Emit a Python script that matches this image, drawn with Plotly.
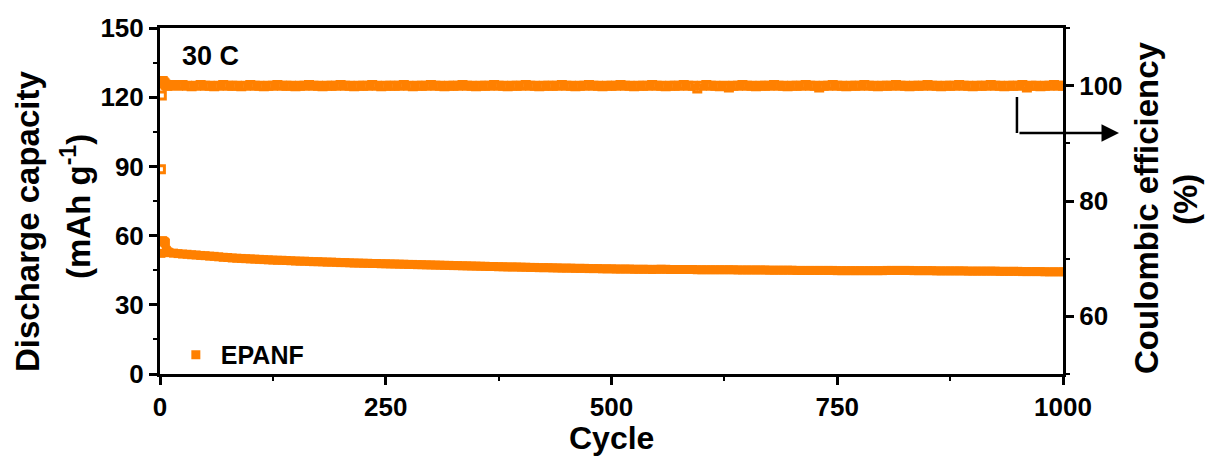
import plotly.graph_objects as go

# Cycle numbers: every cycle for the first ten, then every fifth cycle
CYCLES = list(range(1, 11)) + list(range(15, 1001, 5))

# Discharge capacity (mAh g-1) at 30 C
CAPACITY = [
    52.3, 57.6, 57.8, 57.4, 57.2, 56.8, 53.6, 53.0, 52.8, 52.6,
    # 15 - 100
    52.4, 52.2, 52.0, 51.9, 51.7, 51.6, 51.4, 51.3, 51.1, 51.0, 50.8, 50.6, 50.5, 50.3, 50.2, 50.1, 50.0, 49.9,
    # 105 - 150
    49.8, 49.7, 49.6, 49.5, 49.4, 49.3, 49.3, 49.2, 49.1, 49.0,
    # 155 - 210
    48.9, 48.9, 48.8, 48.7, 48.7, 48.6, 48.5, 48.5, 48.4, 48.3, 48.3, 48.2,
    # 215 - 300
    48.1, 48.1, 48.0, 48.0, 47.9, 47.9, 47.8, 47.8, 47.7, 47.7, 47.6, 47.6, 47.5, 47.5, 47.4, 47.4, 47.3, 47.3,
    # 305 - 380
    47.2, 47.2, 47.1, 47.1, 47.0, 47.0, 46.9, 46.9, 46.8, 46.8, 46.7, 46.7, 46.6, 46.6, 46.5, 46.5,
    # 385 - 450
    46.4, 46.4, 46.4, 46.3, 46.3, 46.2, 46.2, 46.1, 46.1, 46.1, 46.0, 46.0, 45.9, 45.9,
    # 455 - 545
    45.9, 45.8, 45.8, 45.8, 45.7, 45.7, 45.7, 45.6, 45.6, 45.6, 45.5, 45.5, 45.5, 45.5, 45.4, 45.4, 45.4, 45.4, 45.3,
    # 550 - 650
    45.4, 45.4, 45.4, 45.3, 45.3, 45.3, 45.3, 45.3, 45.3, 45.2, 45.2, 45.2, 45.2, 45.2, 45.2, 45.2, 45.2, 45.2, 45.1, 45.1, 45.1,
    # 655 - 760
    45.1, 45.1, 45.1, 45.1, 45.0, 45.0, 45.0, 45.0, 45.0, 45.0, 44.9, 44.9, 44.9, 44.9, 44.9, 44.9, 44.9, 44.9, 44.9, 44.8, 44.8, 44.8,
    # 765 - 830
    44.8, 44.8, 44.8, 44.8, 44.8, 44.8, 44.8, 44.8, 44.9, 44.9, 44.9, 44.9, 44.9, 44.9,
    # 835 - 940
    44.8, 44.8, 44.8, 44.8, 44.8, 44.7, 44.7, 44.7, 44.7, 44.7, 44.7, 44.7, 44.6, 44.6, 44.6, 44.6, 44.6, 44.6, 44.6, 44.5, 44.5, 44.5,
    # 945 - 1000
    44.5, 44.5, 44.4, 44.4, 44.4, 44.4, 44.4, 44.3, 44.3, 44.3, 44.3, 44.3,
]

# Coulombic efficiency (%)
EFFICIENCY = [
    85.5, 98.3, 100.8, 100.6, 100.4, 100.2, 100.1, 100.0, 100.0, 100.1,
    # 15 - 100
    100.1, 100.0, 100.1, 100.0, 99.9, 100.0, 100.1, 100.0, 100.0, 99.9, 100.0, 100.1, 100.0, 100.0, 100.0, 99.9, 100.0, 100.1,
    # 105 - 190
    100.0, 100.0, 99.9, 100.0, 100.0, 100.1, 100.0, 100.0, 100.0, 99.9, 100.0, 100.0, 100.1, 100.0, 100.0, 99.9, 100.0, 100.0,
    # 195 - 280
    100.0, 100.1, 100.0, 100.0, 99.9, 100.0, 100.0, 100.0, 100.1, 100.0, 99.9, 100.0, 100.0, 100.0, 100.0, 100.1, 100.0, 99.9,
    # 285 - 370
    100.0, 100.0, 100.0, 100.1, 100.0, 100.0, 99.9, 100.0, 100.0, 100.0, 100.1, 100.0, 100.0, 99.9, 100.0, 100.0, 100.0, 100.1,
    # 375 - 460
    100.0, 100.0, 99.9, 100.0, 100.0, 100.0, 100.1, 100.0, 100.0, 99.9, 100.0, 100.0, 100.0, 100.0, 100.1, 100.0, 100.0, 99.9,
    # 465 - 550
    100.0, 100.0, 100.1, 100.0, 100.0, 99.9, 100.0, 100.0, 100.0, 100.1, 100.0, 100.0, 99.9, 100.0, 100.0, 100.0, 100.1, 100.0,
    # 555 - 640
    100.0, 99.9, 100.0, 100.0, 100.0, 100.1, 100.0, 100.0, 99.5, 100.0, 100.1, 100.0, 100.0, 99.9, 100.0, 99.7, 100.0, 100.0,
    # 645 - 730
    100.1, 100.0, 100.0, 99.9, 100.0, 100.0, 100.0, 100.1, 100.0, 100.0, 99.9, 100.0, 100.0, 100.0, 100.1, 100.0, 100.0, 99.7,
    # 735 - 820
    100.0, 100.0, 100.1, 100.0, 100.0, 99.9, 100.0, 100.0, 100.0, 100.1, 100.0, 100.0, 99.9, 100.0, 100.0, 100.0, 100.1, 100.0,
    # 825 - 910
    100.0, 99.9, 100.0, 100.0, 100.0, 100.1, 100.0, 100.0, 99.9, 100.0, 100.0, 100.0, 100.1, 100.0, 100.0, 99.9, 100.0, 100.0,
    # 915 - 1000
    100.0, 100.1, 100.0, 100.0, 99.9, 100.0, 100.0, 100.0, 100.1, 99.7, 100.0, 100.0, 99.9, 100.0, 100.0, 100.1, 100.0, 100.0,
]

SERIES_NAME = "EPANF"
RATE_LABEL = "30 C"
X_TICKS = [0, 250, 500, 750, 1000]
Y_TICKS = [0, 30, 60, 90, 120, 150]
Y2_TICKS = [60, 80, 100]

ORANGE = "#FF8000"
FONT = "Liberation Sans, Arial, sans-serif"
tick_font = dict(family=FONT, size=26, color="black", weight="bold")
title_font = dict(family=FONT, size=33, color="black", weight="bold")

fig = go.Figure()

fig.add_trace(go.Scatter(
    x=CYCLES, y=EFFICIENCY, yaxis="y2", mode="markers", name="CE",
    showlegend=False,
    marker=dict(symbol="square-open", size=7, color=ORANGE, line=dict(width=3, color=ORANGE)),
))
fig.add_trace(go.Scatter(
    x=CYCLES, y=CAPACITY, mode="markers", name=SERIES_NAME,
    marker=dict(symbol="square", size=9, color=ORANGE, line=dict(width=0)),
))

axis_common = dict(
    showgrid=False, zeroline=False, showline=True, linecolor="black", linewidth=3,
    ticks="outside", ticklen=8, tickwidth=2.5, tickcolor="black", tickfont=tick_font,
)

fig.update_layout(
    width=1205, height=457,
    margin=dict(l=160, r=142, t=28, b=83),
    paper_bgcolor="white", plot_bgcolor="white",
    xaxis=dict(
        range=[0, 1000], tickvals=X_TICKS, mirror=True,
        minor=dict(dtick=125, tick0=0, ticks="outside", ticklen=4, tickwidth=2, tickcolor="black"),
        **axis_common,
    ),
    yaxis=dict(
        range=[0, 150], tickvals=Y_TICKS,
        minor=dict(dtick=15, tick0=0, ticks="outside", ticklen=4, tickwidth=2, tickcolor="black"),
        **axis_common,
    ),
    yaxis2=dict(
        range=[50, 110], tickvals=Y2_TICKS, overlaying="y", side="right",
        minor=dict(dtick=10, tick0=50, ticks="outside", ticklen=4, tickwidth=2, tickcolor="black"),
        **axis_common,
    ),
    legend=dict(
        x=0.012, y=0.055, xanchor="left", yanchor="middle",
        bgcolor="rgba(0,0,0,0)", font=dict(family=FONT, size=25, color="black", weight="bold"),
        itemwidth=40,
    ),
    font=dict(family=FONT, color="black"),
)

# axis titles, positioned in pixels and converted to paper coordinates
plot_l, plot_r, plot_t, plot_b = 160, 1063, 28, 374
titles = [
    ("Cycle", 611.5, 438, 0, 32),
    ("Discharge capacity", 27, 222, -90, 33),
    ("(mAh g<sup>-1</sup>)", 76, 207, -90, 33),
    ("Coulombic efficiency", 1146, 208, -90, 33),
    ("(%)", 1185, 200, -90, 33),
]
annotations = []
for text, px, py, angle, size in titles:
    annotations.append(dict(
        text=text, textangle=angle, showarrow=False, font={**title_font, "size": size},
        x=(px - plot_l) / (plot_r - plot_l), y=(plot_b - py) / (plot_b - plot_t),
        xref="paper", yref="paper", xanchor="center", yanchor="middle",
    ))

# rate label inside the plot
annotations.append(dict(
    text=RATE_LABEL, x=0.022, y=0.92, xref="paper", yref="paper", xanchor="left", yanchor="middle",
    showarrow=False, font=dict(family=FONT, size=27, color="black", weight="bold"),
))
# arrow pointing to the efficiency axis
annotations.append(dict(
    text="", x=1.062, y=0.6965, xref="paper", yref="paper", ax=-101, ay=0,
    showarrow=True, arrowhead=2, arrowsize=1.4, arrowwidth=2.5, arrowcolor="black",
))
fig.update_layout(annotations=annotations)

fig.add_shape(
    type="line", xref="paper", yref="paper", x0=0.949, x1=0.949, y0=0.8006, y1=0.6965,
    line=dict(color="black", width=2.5),
)

fig.write_html("out.html")
